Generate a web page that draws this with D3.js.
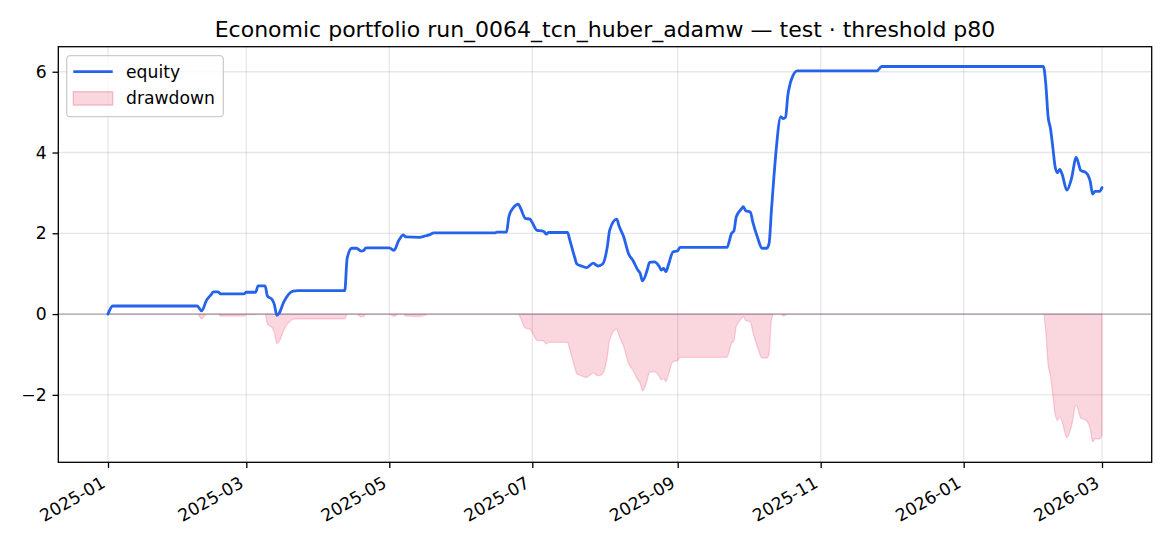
<!DOCTYPE html>
<html><head><meta charset="utf-8">
<script src="https://cdn.jsdelivr.net/npm/d3@7"></script>
<style>
html,body{margin:0;padding:0;background:#fff;}
svg{display:block;font-family:"DejaVu Sans",sans-serif;}
</style></head>
<body><svg id="c" width="1170" height="546"></svg>
<script>
const titleText = "Economic portfolio run_0064_tcn_huber_adamw — test · threshold p80";
const dates = ["2025-01-01","2025-01-03","2025-02-08","2025-02-10","2025-02-12","2025-02-14","2025-02-15","2025-02-17","2025-02-18","2025-02-28",
"2025-03-01","2025-03-05","2025-03-06","2025-03-09","2025-03-10","2025-03-12","2025-03-13","2025-03-14","2025-03-15","2025-03-17",
"2025-03-21","2025-03-23","2025-04-12","2025-04-13","2025-04-15","2025-04-17","2025-04-19","2025-04-20","2025-04-21","2025-05-01",
"2025-05-03","2025-05-05","2025-05-07","2025-05-08","2025-05-14","2025-05-16","2025-05-18","2025-05-20","2025-06-15","2025-06-16",
"2025-06-20","2025-06-21","2025-06-23","2025-06-25","2025-06-26","2025-06-28","2025-06-30","2025-07-01","2025-07-03","2025-07-05",
"2025-07-06","2025-07-07","2025-07-08","2025-07-16","2025-07-17","2025-07-19","2025-07-20","2025-07-22","2025-07-24","2025-07-27",
"2025-07-29","2025-07-31","2025-08-02","2025-08-03","2025-08-06","2025-08-07","2025-08-09","2025-08-11","2025-08-13","2025-08-15",
"2025-08-16","2025-08-17","2025-08-19","2025-08-20","2025-08-22","2025-08-24","2025-08-25","2025-08-26","2025-08-27","2025-08-28",
"2025-08-30","2025-09-01","2025-09-02","2025-09-22","2025-09-24","2025-09-25","2025-09-26","2025-09-28","2025-09-29","2025-09-30",
"2025-10-02","2025-10-03","2025-10-05","2025-10-07","2025-10-09","2025-10-10","2025-10-11","2025-10-12","2025-10-13","2025-10-15",
"2025-10-16","2025-10-17","2025-10-18","2025-10-19","2025-10-20","2025-10-22","2025-11-25","2025-11-27","2026-02-04","2026-02-05",
"2026-02-06","2026-02-07","2026-02-08","2026-02-09","2026-02-10","2026-02-11","2026-02-12","2026-02-14","2026-02-16","2026-02-18",
"2026-02-20","2026-02-22","2026-02-23","2026-02-24","2026-02-25","2026-02-26","2026-02-28","2026-03-01"];
const equity = [0.00,0.20,0.20,0.08,0.34,0.48,0.55,0.55,0.50,0.50,
0.54,0.54,0.70,0.70,0.45,0.36,0.23,-0.03,0.02,0.30,
0.57,0.58,0.58,1.38,1.63,1.63,1.56,1.57,1.64,1.64,
1.58,1.82,1.96,1.91,1.90,1.93,1.96,2.01,2.01,2.03,
2.03,2.41,2.64,2.72,2.62,2.37,2.35,2.26,2.07,2.06,
2.04,1.98,2.02,2.02,1.83,1.42,1.24,1.19,1.15,1.26,
1.19,1.24,1.67,2.08,2.35,2.18,1.91,1.50,1.32,1.09,
1.01,0.82,1.09,1.28,1.29,1.19,1.09,1.13,1.05,1.21,
1.54,1.57,1.65,1.65,2.00,2.06,2.41,2.59,2.66,2.56,
2.53,2.29,1.91,1.63,1.63,1.75,2.58,3.36,4.06,4.89,
4.84,4.87,5.42,5.71,5.88,6.02,6.02,6.13,6.13,5.71,
4.89,4.60,4.14,3.65,3.50,3.58,3.46,3.07,3.36,3.88,
3.55,3.51,3.44,3.28,2.97,3.04,3.04,3.13];
const xTickDates = ["2025-01-01","2025-03-01","2025-05-01","2025-07-01","2025-09-01","2025-11-01","2026-01-01","2026-03-01"];
const yTickValues = [-2,0,2,4,6];
const legendLabels = ["equity","drawdown"];

const parse = d3.utcParse("%Y-%m-%d");
const pts = dates.map((d,i)=>({t:parse(d), v:equity[i]}));
let peak = -Infinity;
pts.forEach(p=>{peak=Math.max(peak,p.v); p.dd = p.v - peak;});

const L=58.3, R=1151.7, T=46.7, B=462.3;
const t0 = pts[0].t, t1 = pts[pts.length-1].t, span = t1 - t0;
const x = d3.scaleUtc().domain([new Date(+t0 - 0.05*span), new Date(+t1 + 0.05*span)]).range([L,R]);
const y = d3.scaleLinear().domain([-3.67, 6.62]).range([B,T]);

const svg = d3.select("#c");
const FS = 17.2;

// grid
const g = svg.append("g");
g.selectAll(".gx").data(xTickDates.map(parse)).join("line")
  .attr("x1",d=>x(d)).attr("x2",d=>x(d)).attr("y1",T).attr("y2",B)
  .attr("stroke","#b0b0b0").attr("stroke-opacity",0.3).attr("stroke-width",1.3);
g.selectAll(".gy").data(yTickValues).join("line")
  .attr("x1",L).attr("x2",R).attr("y1",d=>y(d)).attr("y2",d=>y(d))
  .attr("stroke","#b0b0b0").attr("stroke-opacity",0.3).attr("stroke-width",1.3);

// drawdown area
const area = d3.area().x(d=>x(d.t)).y0(y(0)).y1(d=>y(d.dd)).curve(d3.curveMonotoneX);
svg.append("path").datum(pts).attr("d",area)
  .attr("fill","rgb(225,29,72)").attr("fill-opacity",0.18)
  .attr("stroke","rgb(225,29,72)").attr("stroke-opacity",0.18).attr("stroke-width",1.3);

// zero line
svg.append("line").attr("x1",L).attr("x2",R).attr("y1",y(0)).attr("y2",y(0))
  .attr("stroke","#6b6b8a").attr("stroke-opacity",0.55).attr("stroke-width",1.3);

// equity line
const line = d3.line().x(d=>x(d.t)).y(d=>y(d.v)).curve(d3.curveMonotoneX);
svg.append("path").datum(pts).attr("d",line)
  .attr("fill","none").attr("stroke","#2563eb").attr("stroke-width",2.8)
  .attr("stroke-linejoin","round").attr("stroke-linecap","round");

// frame
svg.append("rect").attr("x",L).attr("y",T).attr("width",R-L).attr("height",B-T)
  .attr("fill","none").attr("stroke","#000").attr("stroke-width",1.3);

// axes
const fmt = d3.utcFormat("%Y-%m");
const xAxis = d3.axisBottom(x).tickValues(xTickDates.map(parse)).tickSize(5.8).tickPadding(5.8).tickFormat(fmt);
const gx = svg.append("g").attr("transform",`translate(0,${B})`).call(xAxis);
gx.select(".domain").remove();
gx.selectAll(".tick line").attr("stroke","#000").attr("stroke-width",1.3);
gx.selectAll(".tick text").attr("font-size",FS).attr("font-family","DejaVu Sans").attr("fill","#000")
  .attr("text-anchor","end").attr("dy",null).attr("y",null)
  .attr("transform","translate(-2,24) rotate(-30)");

const yAxis = d3.axisLeft(y).tickValues(yTickValues).tickSize(5.8).tickPadding(5.8)
  .tickFormat(d=> d<0 ? "\u2212"+Math.abs(d) : String(d));
const gy = svg.append("g").attr("transform",`translate(${L},0)`).call(yAxis);
gy.select(".domain").remove();
gy.selectAll(".tick line").attr("stroke","#000").attr("stroke-width",1.3);
gy.selectAll(".tick text").attr("font-size",FS).attr("font-family","DejaVu Sans").attr("fill","#000");

// title
svg.append("text").attr("x",(L+R)/2).attr("y",36.5).attr("text-anchor","middle")
  .attr("font-size",22).attr("fill","#000").text(titleText);

// legend
const lg = svg.append("g");
lg.append("rect").attr("x",66.7).attr("y",55.7).attr("width",156.6).attr("height",61).attr("rx",3.5)
  .attr("fill","#fff").attr("fill-opacity",0.8).attr("stroke","#cccccc").attr("stroke-width",1.3);
lg.append("line").attr("x1",73.3).attr("x2",112.7).attr("y1",71.7).attr("y2",71.7)
  .attr("stroke","#2563eb").attr("stroke-width",2.8);
lg.append("rect").attr("x",73.3).attr("y",91.7).attr("width",39.4).attr("height",13.4)
  .attr("fill","rgb(225,29,72)").attr("fill-opacity",0.18)
  .attr("stroke","rgb(225,29,72)").attr("stroke-opacity",0.25).attr("stroke-width",1.3);
lg.append("text").attr("x",126).attr("y",71.7).attr("dy","0.35em").attr("font-size",FS).text(legendLabels[0]);
lg.append("text").attr("x",126).attr("y",98.4).attr("dy","0.35em").attr("font-size",FS).text(legendLabels[1]);
</script></body></html>
